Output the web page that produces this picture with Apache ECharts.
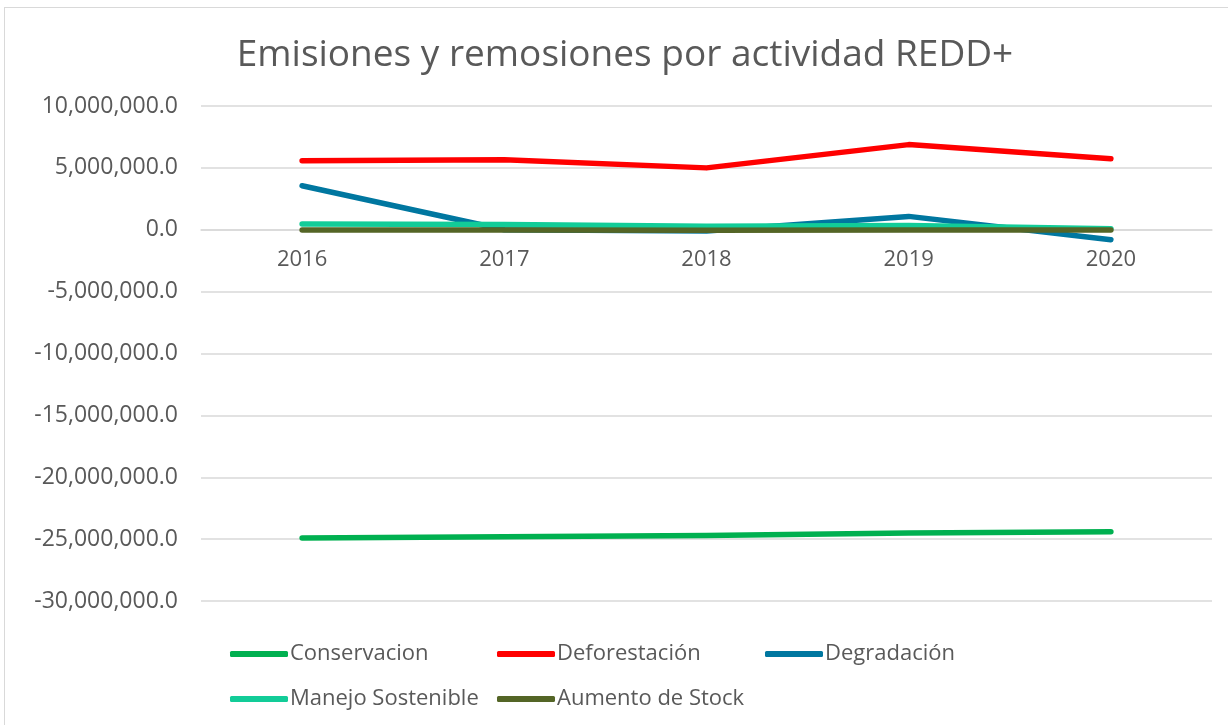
<!DOCTYPE html>
<html>
<head>
<meta charset="utf-8">
<script src="https://cdn.jsdelivr.net/npm/echarts@6/dist/echarts.min.js"></script>
<style>
  html, body { margin: 0; padding: 0; background: #fff; }
  #frame { position: absolute; left: 4px; top: 7px; width: 1240px; height: 740px; border: 1px solid #d9d9d9; box-sizing: border-box; }
  #chart { position: absolute; left: 0; top: 0; width: 1228px; height: 725px; }
</style>
</head>
<body>
<div id="frame"></div>
<div id="chart"></div>
<script>
// años del inventario
const years = ['2016', '2017', '2018', '2019', '2020'];

// tCO2e por actividad
const conservacion = [-24900000, -24800000, -24700000, -24500000, -24400000];
const deforestacion = [5580000, 5660000, 5000000, 6880000, 5740000];
const degradacion = [3560000, 0, -100000, 1080000, -810000];
const manejoSostenible = [460000, 430000, 280000, 350000, 80000];
const aumentoStock = [-20000, -30000, -40000, -30000, -30000];

const seriesNames = ['Conservacion', 'Deforestación', 'Degradación', 'Manejo Sostenible', 'Aumento de Stock'];
const seriesData = [conservacion, deforestacion, degradacion, manejoSostenible, aumentoStock];
const colors = ['#00b050', '#ff0000', '#0077a0', '#12cc98', '#546526'];

const legendPos = [
    { left: 230, top: 643 },
    { left: 497, top: 643 },
    { left: 765, top: 643 },
    { left: 230, top: 688 },
    { left: 497, top: 688 }
];

const chart = echarts.init(document.getElementById('chart'));

const fmt = v => v.toLocaleString('en-US', { minimumFractionDigits: 1, maximumFractionDigits: 1 });

chart.setOption({
    backgroundColor: 'transparent',
    color: colors,
    textStyle: { fontFamily: 'Open Sans' },
    title: {
        text: 'Emisiones y remosiones por actividad REDD+',
        left: 620,
        textAlign: 'center',
        top: 32,
        textStyle: { color: '#595959', fontSize: 37, fontWeight: 'normal', fontFamily: 'Open Sans' }
    },
    legend: seriesNames.map((name, i) => ({
        data: [name],
        left: legendPos[i].left,
        top: legendPos[i].top,
        padding: 0,
        icon: 'roundRect',
        itemWidth: 58,
        itemHeight: 6,
        itemGap: 0,
        textStyle: { color: '#595959', fontSize: 22, padding: [0, 0, 0, -3] }
    })),
    grid: { left: 201, right: 16, top: 106, bottom: 124 },
    xAxis: {
        type: 'category',
        data: years,
        boundaryGap: true,
        // eje dibujado sobre la línea de cero
        offset: -371,
        axisLine: { show: true, onZero: false, lineStyle: { color: '#d9d9d9', width: 1.5 } },
        axisTick: { show: false },
        axisLabel: { color: '#595959', fontSize: 22, margin: 19 }
    },
    yAxis: {
        type: 'value',
        min: -30000000,
        max: 10000000,
        interval: 5000000,
        axisLine: { show: false },
        axisTick: { show: false },
        axisLabel: { color: '#595959', fontSize: 23, margin: 23, formatter: fmt },
        splitLine: { lineStyle: { color: '#d9d9d9', width: 1.5 } }
    },
    series: seriesNames.map((name, i) => ({
        name,
        type: 'line',
        data: seriesData[i],
        symbol: 'none',
        lineStyle: { width: 5.5, color: colors[i], cap: 'round', join: 'round' },
        itemStyle: { color: colors[i] }
    }))
});
</script>
</body>
</html>
